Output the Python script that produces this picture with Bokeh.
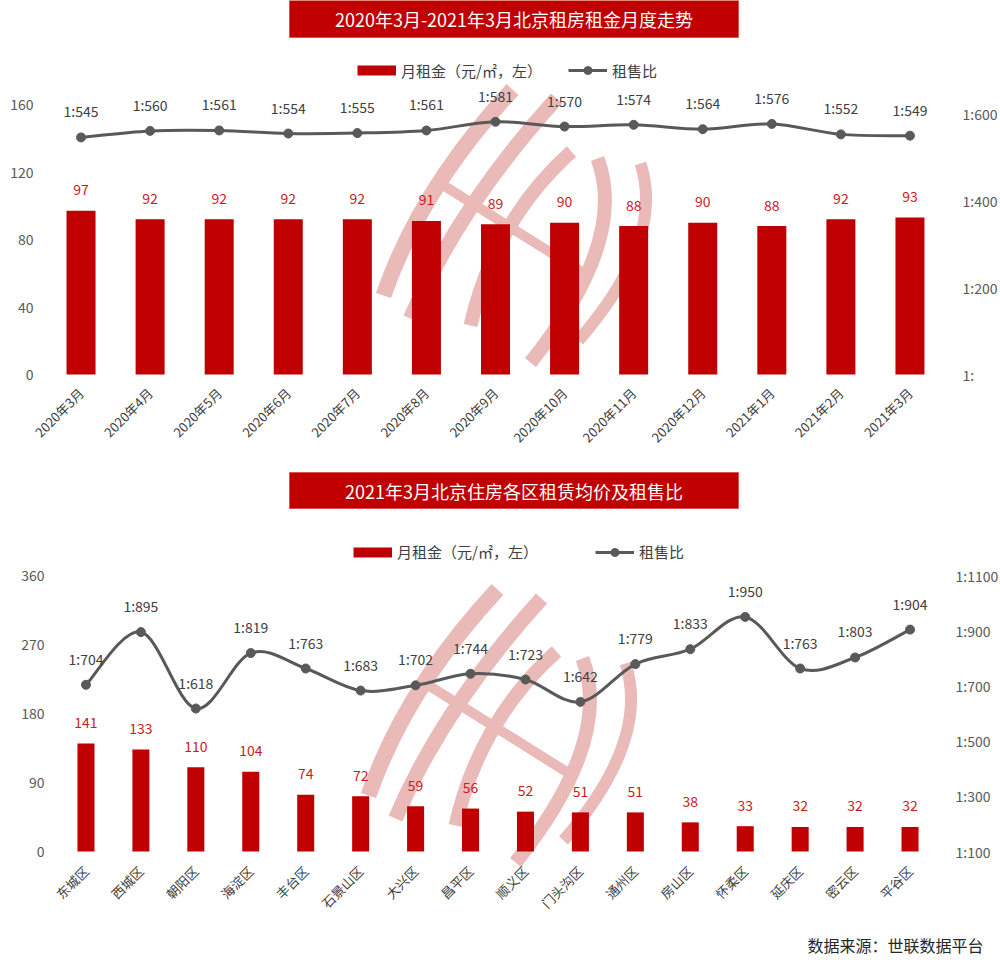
import math
from bokeh.plotting import figure
from bokeh.models import (Range1d, LinearAxis, FixedTicker, Legend, LegendItem,
                          ColumnDataSource, Grid)
from bokeh.layouts import column
from bokeh.embed import file_html
from bokeh.resources import INLINE
from bokeh.core.properties import value

# ---------------- data ----------------
months = ["2020年3月", "2020年4月", "2020年5月", "2020年6月", "2020年7月", "2020年8月",
          "2020年9月", "2020年10月", "2020年11月", "2020年12月", "2021年1月", "2021年2月",
          "2021年3月"]
month_rent = [97, 92, 92, 92, 92, 91, 89, 90, 88, 90, 88, 92, 93]
month_ratio = [545, 560, 561, 554, 555, 561, 581, 570, 574, 564, 576, 552, 549]

districts = ["东城区", "西城区", "朝阳区", "海淀区", "丰台区", "石景山区", "大兴区", "昌平区",
             "顺义区", "门头沟区", "通州区", "房山区", "怀柔区", "延庆区", "密云区", "平谷区"]
district_rent = [141, 133, 110, 104, 74, 72, 59, 56, 52, 51, 51, 38, 33, 32, 32, 32]
district_ratio = [704, 895, 618, 819, 763, 683, 702, 744, 723, 642, 779, 833, 950, 763, 803, 904]

left_ticks_1 = [0, 40, 80, 120, 160]
right_ticks_1 = [0, 200, 400, 600]
left_ticks_2 = [0, 90, 180, 270, 360]
right_ticks_2 = [100, 300, 500, 700, 900, 1100]

title_1 = "2020年3月-2021年3月北京租房租金月度走势"
title_2 = "2021年3月北京住房各区租赁均价及租售比"
legend_bar = "月租金（元/㎡，左）"
legend_line = "租售比"
source_note = "数据来源：世联数据平台"

# ---------------- styles ----------------
FONT = "Noto Sans CJK SC"
RED = "#C00000"
LABEL_RED = "#CC1A22"
GRAY = "#595959"
TEXT = "#404040"
WM = "#E9BAB8"
W = 1000         # canvas width
OX = 0           # page x of canvas left edge


def smooth_segments(xs, ys):
    """Cubic Bezier segments (Catmull-Rom style) through the data points."""
    n = len(ys)
    seg = dict(x0=[], y0=[], x1=[], y1=[], cx0=[], cy0=[], cx1=[], cy1=[])
    for i in range(n - 1):
        a = max(i - 1, 0)
        d = min(i + 2, n - 1)
        seg["x0"].append(xs[i]); seg["y0"].append(ys[i])
        seg["x1"].append(xs[i + 1]); seg["y1"].append(ys[i + 1])
        seg["cx0"].append(xs[i] + (xs[i + 1] - xs[a]) / 6)
        seg["cy0"].append(ys[i] + (ys[i + 1] - ys[a]) / 6)
        seg["cx1"].append(xs[i + 1] - (xs[d] - xs[i]) / 6)
        seg["cy1"].append(ys[i + 1] - (ys[d] - ys[i]) / 6)
    return seg


def style_axis(ax, size="14px", color=GRAY, standoff=0):
    ax.axis_line_color = None
    ax.major_tick_line_color = None
    ax.minor_tick_line_color = None
    ax.major_tick_out = 0
    ax.major_tick_in = 0
    ax.minor_tick_out = 0
    ax.minor_tick_in = 0
    ax.major_label_text_font = FONT
    ax.major_label_text_font_size = size
    ax.major_label_text_color = color
    ax.major_label_standoff = standoff


def make_chart(cats, rent, ratio, H, oy, ref_x0, ref_x1, base, kl, kr, r0,
               lticks, rticks, bar_w, title, banner, logo_shift, left_loc, right_loc,
               x_standoff, legend_ref, legend_spacing, note=None):
    n = len(cats)
    ppu = (ref_x1 - ref_x0) / n
    x_start = -0.5 + (OX - ref_x0) / ppu
    x_end = -0.5 + (OX + W - ref_x0) / ppu

    p = figure(width=W, height=H, title=None,
               x_range=Range1d(x_start, x_end),
               y_range=Range1d((base - (oy + H)) / kl, (base - oy) / kl),
               output_backend="svg", toolbar_location=None,
               x_axis_location=None, y_axis_location=None,
               min_border_left=0, min_border_right=0, min_border_top=0,
               min_border_bottom=0)
    p.extra_y_ranges = {"ratio": Range1d(r0 + (base - (oy + H)) / kr, r0 + (base - oy) / kr),
                        "py": Range1d(oy + H, oy)}
    p.extra_x_ranges = {"px": Range1d(OX, OX + W)}
    p.outline_line_color = None
    p.background_fill_color = "white"
    p.border_fill_color = "white"
    for r in p.center:
        if isinstance(r, Grid):
            r.visible = False

    # watermark (behind the data)
    dx, dy = logo_shift
    x0 = [512, 556, 571, 597, 640]
    y0 = [89, 98, 151, 158, 163]
    cx = [420, 458, 494, 628, 665]
    cy = [188, 206, 220, 240, 240]
    x1 = [383, 410, 470, 530, 578]
    y1 = [295, 318, 325, 362, 340]
    w = [16, 15, 14, 14, 12]
    p.quadratic(x0=[v + dx for v in x0], y0=[v + dy for v in y0],
                x1=[v + dx for v in x1], y1=[v + dy for v in y1],
                cx=[v + dx for v in cx], cy=[v + dy for v in cy],
                line_width=w, line_color=WM, line_cap="butt",
                x_range_name="px", y_range_name="py")
    p.segment(x0=[440 + dx], y0=[183 + dy], x1=[590 + dx], y1=[277 + dy],
              line_width=10, line_color=WM, line_cap="butt",
              x_range_name="px", y_range_name="py")

    # banner title
    bl, br, bt, bb = banner
    p.quad(left=[bl], right=[br], top=[bt], bottom=[bb], fill_color=RED,
           line_color="#D9534F", line_width=1, x_range_name="px", y_range_name="py")
    p.text(x=[(bl + br) / 2], y=[(bt + bb) / 2], text=[title], text_color="white",
           text_font=value(FONT), text_font_size="18px", text_align="center",
           text_baseline="middle", x_range_name="px", y_range_name="py")

    idx = list(range(n))
    src = ColumnDataSource(dict(idx=idx, cat=cats, rent=rent, ratio=ratio,
                                rent_label=[str(v) for v in rent],
                                ratio_label=["1:%d" % v for v in ratio]))
    p.vbar(x="idx", top="rent", width=bar_w, source=src, fill_color=RED, line_color=None)
    p.text(x="idx", y="rent", text="rent_label", source=src, y_offset=-21,
           text_align="center", text_baseline="middle", text_font=value(FONT),
           text_font_size="14px", text_color=LABEL_RED)

    seg = ColumnDataSource(smooth_segments(idx, ratio))
    bez = p.bezier(x0="x0", y0="y0", x1="x1", y1="y1", cx0="cx0", cy0="cy0",
                   cx1="cx1", cy1="cy1", source=seg, line_color=GRAY, line_width=3,
                   y_range_name="ratio")
    sc = p.scatter(x="idx", y="ratio", source=src, size=9, fill_color=GRAY,
                   line_color=GRAY, y_range_name="ratio")
    p.text(x="idx", y="ratio", text="ratio_label", source=src, y_offset=-26,
           text_align="center", text_baseline="middle", text_font=value(FONT),
           text_font_size="14px", text_color=TEXT, y_range_name="ratio")

    # legend (the bar key is a thick red stroke, as in the original)
    key_bar = p.line(x=[x_start - 5], y=[0], line_color=RED, line_width=10, line_cap="butt")
    lx, lcy = legend_ref
    legend = Legend(items=[LegendItem(label=legend_bar, renderers=[key_bar]),
                           LegendItem(label=legend_line, renderers=[bez, sc])],
                    orientation="horizontal",
                    location=(lx - OX, H - (lcy - oy) - 10),
                    glyph_width=39, glyph_height=20, label_height=20, label_standoff=5,
                    spacing=legend_spacing, padding=0, margin=0,
                    border_line_color=None, background_fill_alpha=0,
                    label_text_font=FONT, label_text_font_size="15px",
                    label_text_color=TEXT)
    p.add_layout(legend)

    # axes (fixed inside the canvas so that every position is exact)
    lax = LinearAxis(x_range_name="px", fixed_location=left_loc,
                     ticker=FixedTicker(ticks=lticks))
    style_axis(lax)
    p.add_layout(lax, "left")
    rax = LinearAxis(y_range_name="ratio", x_range_name="px", fixed_location=right_loc,
                     ticker=FixedTicker(ticks=rticks),
                     major_label_overrides={t: ("1:%d" % t if t else "1:") for t in rticks})
    style_axis(rax)
    p.add_layout(rax, "right")
    xax = LinearAxis(fixed_location=0, ticker=FixedTicker(ticks=idx),
                     major_label_overrides={i: c for i, c in zip(idx, cats)},
                     major_label_orientation=math.pi / 4)
    style_axis(xax, size="13px", color=TEXT, standoff=x_standoff)
    p.add_layout(xax, "below")

    if note is not None:
        p.text(x=[983], y=[944], text=[note], text_align="right", text_baseline="middle",
               text_font=value(FONT), text_font_size="16px", text_color="#262626",
               x_range_name="px", y_range_name="py")
    return p


# top chart: canvas covers reference y 0..468
p1 = make_chart(months, month_rent, month_ratio, H=468, oy=0, ref_x0=46, ref_x1=944,
                base=374, kl=1.6875, kr=0.435, r0=0,
                lticks=left_ticks_1, rticks=right_ticks_1, bar_w=0.42,
                title=title_1, banner=(289, 738, 0, 37), logo_shift=(0, 0),
                left_loc=33, right_loc=962, x_standoff=16,
                legend_ref=(357, 70.5), legend_spacing=26)

# bottom chart: canvas covers reference y 468..967
p2 = make_chart(districts, district_rent, district_ratio, H=499, oy=468, ref_x0=58,
                ref_x1=937, base=851, kl=276 / 360, kr=0.276, r0=100,
                lticks=left_ticks_2, rticks=right_ticks_2, bar_w=0.31,
                title=title_2, banner=(289, 738, 472, 508), logo_shift=(-15, 500),
                left_loc=44, right_loc=955, x_standoff=17,
                legend_ref=(353, 552), legend_spacing=57, note=source_note)

layout = column(p1, p2, spacing=0)
open("out.html", "w").write(file_html(layout, INLINE))
